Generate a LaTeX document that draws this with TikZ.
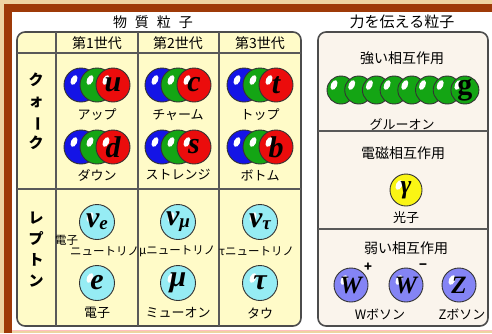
\documentclass[tikz,border=0pt]{standalone}
\usepackage{fontspec}
\setmainfont{Noto Sans CJK JP}
\newfontfamily\ballfont{Liberation Serif}
\usetikzlibrary{positioning}

\definecolor{wood}{RGB}{238,212,162}
\definecolor{frame}{RGB}{158,58,8}
\definecolor{matter}{RGB}{255,251,200}
\definecolor{force}{RGB}{250,244,236}
\definecolor{qblue}{RGB}{20,20,230}
\definecolor{qgreen}{RGB}{20,165,20}
\definecolor{qred}{RGB}{235,12,12}
\definecolor{lepton}{RGB}{150,236,244}
\definecolor{photon}{RGB}{250,245,20}
\definecolor{boson}{RGB}{132,132,245}

\tikzset{
  ball/.style={circle, inner sep=0pt, minimum size=34pt, draw=black!80, line width=0.9pt, fill=#1,
    path picture={\fill[white] ([xshift=-7pt,yshift=5pt]path picture bounding box.center)
      ellipse [x radius=3pt, y radius=5.2pt, rotate=-25];}},
  balltext/.style={font=\ballfont\bfseries\itshape\fontsize{30}{30}\selectfont, inner sep=0pt},
  plabel/.style={font=\fontsize{13}{13}\selectfont, inner sep=0pt},
  nulabel/.style={font=\fontsize{11.5}{11.5}\selectfont, inner sep=0pt, anchor=west},
  ptitle/.style={font=\fontsize{14}{14}\selectfont, inner sep=0pt},
  sidetext/.style={font=\bfseries\fontsize{15}{21}\selectfont, align=center, inner sep=0pt},
  grid line/.style={draw=black!65, line width=1.4pt}
}

\begin{document}
\begin{tikzpicture}[x=1pt, y=-1pt]
\useasboundingbox (0,0) rectangle (492,333);
% wooden frame
\fill[wood] (0,0) rectangle (492,333);
\fill[frame] (4,4) rectangle (12,333);
\fill[frame] (4,4) rectangle (492,12);
\fill[white] (12,12) rectangle (492,330);
\draw[red!25, line width=0.8pt] (12,330.4) -- (492,330.4);

% matter table
\node[ptitle] (matter title) at (153,22) {物\hspace{8pt}質\hspace{8pt}粒\hspace{8pt}子};
\draw[draw=black!70, line width=1.6pt, fill=matter, rounded corners=8pt] (17,32) rectangle (301,326);
\draw[grid line] (56,32) -- (56,326);
\draw[grid line] (138,32) -- (138,326);
\draw[grid line] (219,32) -- (219,326);
\draw[grid line] (17,53) -- (301,53);
\draw[grid line] (17,189) -- (301,189);
\node[ptitle] (gen1) at (97,43) {第1世代};
\node[ptitle] (gen2) at (178,43) {第2世代};
\node[ptitle] (gen3) at (260,43) {第3世代};
\node[sidetext] (quark) at (36,111) {ク\\ォ\\\rotatebox[origin=c]{-90}{ー}\\ク};
\node[sidetext] (lepton) at (36,250) {レ\\プ\\ト\\ン};

% quarks
\foreach \x/\qa/\na/\qb/\nb [count=\i] in {97/u/アップ/d/ダウン, 178/c/チャーム/s/ストレンジ, 260/t/トップ/b/ボトム}{
  \node[ball=qblue] (up\i b) at (\x-16,85) {};
  \node[ball=qgreen] (up\i g) at (\x,85) {};
  \node[ball=qred] (up\i r) at (\x+16,85) {};
  \node[balltext] (up\i q) at (up\i r) {\qa};
  \node[plabel] (up\i n) at (\x,115) {\na};
  \node[ball=qblue] (down\i b) at (\x-16,147) {};
  \node[ball=qgreen] (down\i g) at (\x,147) {};
  \node[ball=qred] (down\i r) at (\x+16,147) {};
  \node[balltext] (down\i q) at (down\i r) {\qb};
  \node[plabel] (down\i n) at (\x,175) {\nb};
}

% leptons
\foreach \x/\l/\n [count=\i] in {97/e/電子, 178/μ/ミューオン, 260/τ/タウ}{
  \node[ball=lepton, minimum size=35pt] (nu\i) at (\x,222) {};
  \node[balltext] (nu\i l) at (nu\i) {ν\raisebox{-2pt}{\fontsize{19}{19}\selectfont\l}};
  \node[ball=lepton, minimum size=35pt] (lep\i) at (\x,283) {};
  \node[balltext] (lep\i l) at (lep\i) {\l};
  \node[plabel] (lep\i n) at (\x,313) {\n};
}
\node[nulabel] (nu1 a) at (55,240) {電子};
\node[nulabel] (nu1 n) at (70,251) {ニュートリノ};
\node[nulabel] (nu2 n) at (139,251) {μニュートリノ};
\node[nulabel] (nu3 n) at (219,251) {τニュートリノ};

% force carriers
\node[ptitle, font=\fontsize{15}{15}\selectfont] (force title) at (402,22) {力を伝える粒子};
\draw[draw=black!70, line width=1.6pt, fill=force, rounded corners=8pt] (318,32) rectangle (488,326);
\draw[grid line] (318,131) -- (488,131);
\draw[grid line] (318,229) -- (488,229);

\node[ptitle] (strong) at (402,58) {強い相互作用};
\foreach \i in {1,...,8}
  \node[ball=qgreen, minimum size=28pt] (glu\i) at ({341+17.7*(\i-1)},90) {};
\node[balltext, font=\ballfont\bfseries\fontsize{30}{30}\selectfont] (g) at (glu8) {g};
\node[plabel] (gluon) at (402,124) {グルーオン};

\node[ptitle] (em) at (403,153) {電磁相互作用};
\node[ball=photon, minimum size=32pt] (gamma) at (406,190) {};
\node[balltext, font=\ballfont\bfseries\itshape\fontsize{26}{26}\selectfont] (gamma l) at (gamma) {γ};
\node[plabel] (photon) at (406,218) {光子};

\node[ptitle] (weak) at (406,248) {弱い相互作用};
\node[ball=boson] (wp) at (351,285) {};
\node[ball=boson] (wm) at (406,285) {};
\node[ball=boson] (z) at (459,285) {};
\node[balltext, font=\ballfont\bfseries\itshape\fontsize{25}{25}\selectfont] (wp l) at (wp) {W};
\node[balltext, font=\ballfont\bfseries\itshape\fontsize{25}{25}\selectfont] (wm l) at (wm) {W};
\node[balltext, font=\ballfont\bfseries\itshape\fontsize{25}{25}\selectfont] (z l) at (z) {Z};
\node[font=\bfseries\fontsize{13}{13}\selectfont, inner sep=0pt] (plus) at (368,267) {+};
\node[font=\bfseries\fontsize{13}{13}\selectfont, inner sep=0pt] (minus) at (423,267) {−};
\node[plabel] (w name) at (380,314) {Wボソン};
\node[plabel] (z name) at (462,314) {Zボソン};
\end{tikzpicture}
\end{document}
